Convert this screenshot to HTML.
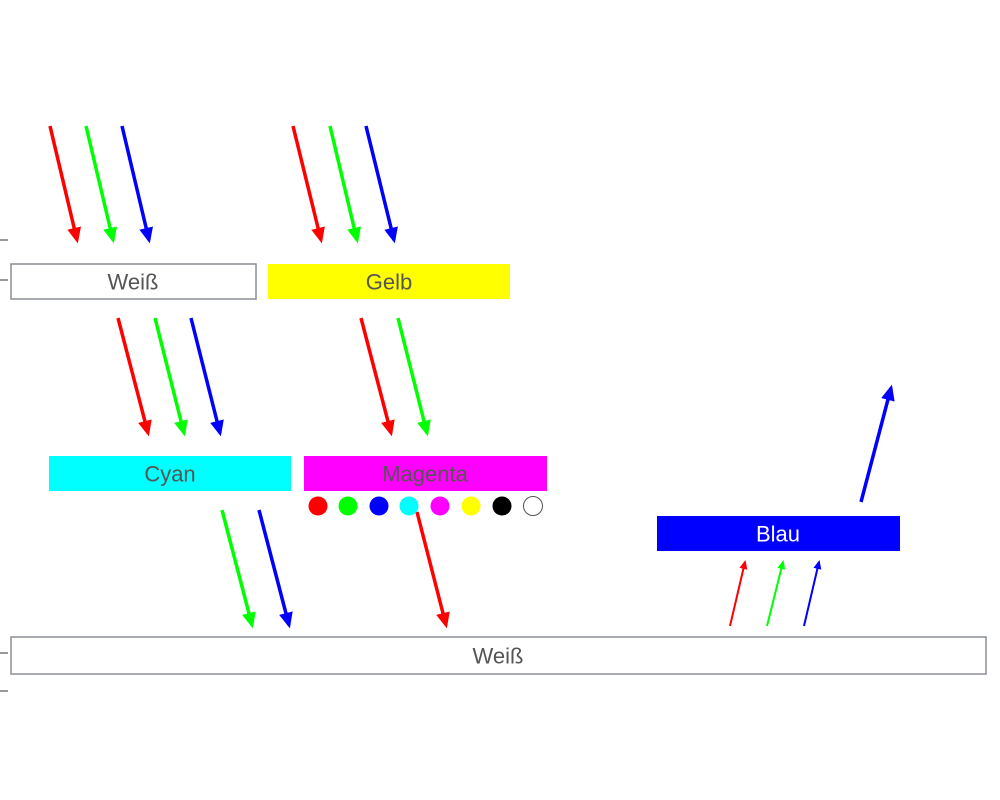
<!DOCTYPE html>
<html><head><meta charset="utf-8"><style>body{margin:0;background:#fff}svg{display:block}text{font-family:"Liberation Sans",sans-serif;font-size:22px;fill:#555;text-anchor:middle;dominant-baseline:central}</style></head>
<body>
<svg width="1000" height="800" viewBox="0 0 1000 800">
<defs>
<marker id="mr" markerWidth="4.5" markerHeight="4" refX="3.5" refY="2" orient="auto" markerUnits="strokeWidth"><path d="M0,0L4.5,2L0,4z" fill="#f00"/></marker>
<marker id="mg" markerWidth="4.5" markerHeight="4" refX="3.5" refY="2" orient="auto" markerUnits="strokeWidth"><path d="M0,0L4.5,2L0,4z" fill="#0f0"/></marker>
<marker id="mb" markerWidth="4.5" markerHeight="4" refX="3.5" refY="2" orient="auto" markerUnits="strokeWidth"><path d="M0,0L4.5,2L0,4z" fill="#00f"/></marker>
</defs>
<g stroke="#333" stroke-width="1">
<line x1="0" y1="240" x2="8" y2="240"/><line x1="0" y1="280" x2="8" y2="280"/><line x1="0" y1="653" x2="8" y2="653"/><line x1="0" y1="691" x2="8" y2="691"/>
</g>
<g><rect x="11" y="264" width="245" height="35" fill="#fff" stroke="#8a8f96" stroke-width="1.5"/><text x="133" y="282">Weiß</text></g>
<g><rect x="268" y="264" width="242" height="35" fill="#ff0"/><text x="389" y="282">Gelb</text></g>
<g><rect x="49" y="456" width="242" height="35" fill="#0ff"/><text x="170" y="474">Cyan</text></g>
<g><rect x="304" y="456" width="243" height="35" fill="#f0f"/><text x="425" y="474">Magenta</text></g>
<g><rect x="657" y="516" width="243" height="35" fill="#00f"/><text x="778" y="534" style="fill:#fff">Blau</text></g>
<g><rect x="11" y="637" width="975" height="37" fill="#fff" stroke="#8a8f96" stroke-width="1.5"/><text x="498" y="656">Weiß</text></g>
<g stroke-width="3.5" fill="none">
<line x1="50" y1="126" x2="77" y2="240" stroke="#f00" marker-end="url(#mr)"/>
<line x1="86" y1="126" x2="113" y2="240" stroke="#0f0" marker-end="url(#mg)"/>
<line x1="122" y1="126" x2="149" y2="240" stroke="#00f" marker-end="url(#mb)"/>
<line x1="293" y1="126" x2="321" y2="240" stroke="#f00" marker-end="url(#mr)"/>
<line x1="330" y1="126" x2="357" y2="240" stroke="#0f0" marker-end="url(#mg)"/>
<line x1="366" y1="126" x2="394" y2="240" stroke="#00f" marker-end="url(#mb)"/>
<line x1="118" y1="318" x2="148" y2="433" stroke="#f00" marker-end="url(#mr)"/>
<line x1="155" y1="318" x2="184" y2="433" stroke="#0f0" marker-end="url(#mg)"/>
<line x1="191" y1="318" x2="220" y2="433" stroke="#00f" marker-end="url(#mb)"/>
<line x1="361" y1="318" x2="391" y2="433" stroke="#f00" marker-end="url(#mr)"/>
<line x1="398" y1="318" x2="427" y2="433" stroke="#0f0" marker-end="url(#mg)"/>
<line x1="222" y1="510" x2="252" y2="625" stroke="#0f0" marker-end="url(#mg)"/>
<line x1="259" y1="510" x2="289" y2="625" stroke="#00f" marker-end="url(#mb)"/>
<line x1="417" y1="512" x2="446" y2="625" stroke="#f00" marker-end="url(#mr)"/>
<line x1="861" y1="502" x2="891" y2="388" stroke="#00f" marker-end="url(#mb)"/>
</g>
<g stroke-width="2" fill="none">
<line x1="730" y1="626" x2="745" y2="562" stroke="#f00" marker-end="url(#mr)"/>
<line x1="767" y1="626" x2="783" y2="562" stroke="#0f0" marker-end="url(#mg)"/>
<line x1="804" y1="626" x2="819" y2="562" stroke="#00f" marker-end="url(#mb)"/>
</g>
<g>
<circle cx="318" cy="506" r="9.5" fill="#f00"/><circle cx="348" cy="506" r="9.5" fill="#0f0"/><circle cx="379" cy="506" r="9.5" fill="#00f"/><circle cx="409" cy="506" r="9.5" fill="#0ff"/><circle cx="440" cy="506" r="9.5" fill="#f0f"/><circle cx="471" cy="506" r="9.5" fill="#ff0"/><circle cx="502" cy="506" r="9.5" fill="#000"/><circle cx="533" cy="506" r="9.5" fill="#fff" stroke="#555" stroke-width="1"/>
</g>
</svg>
</body></html>
